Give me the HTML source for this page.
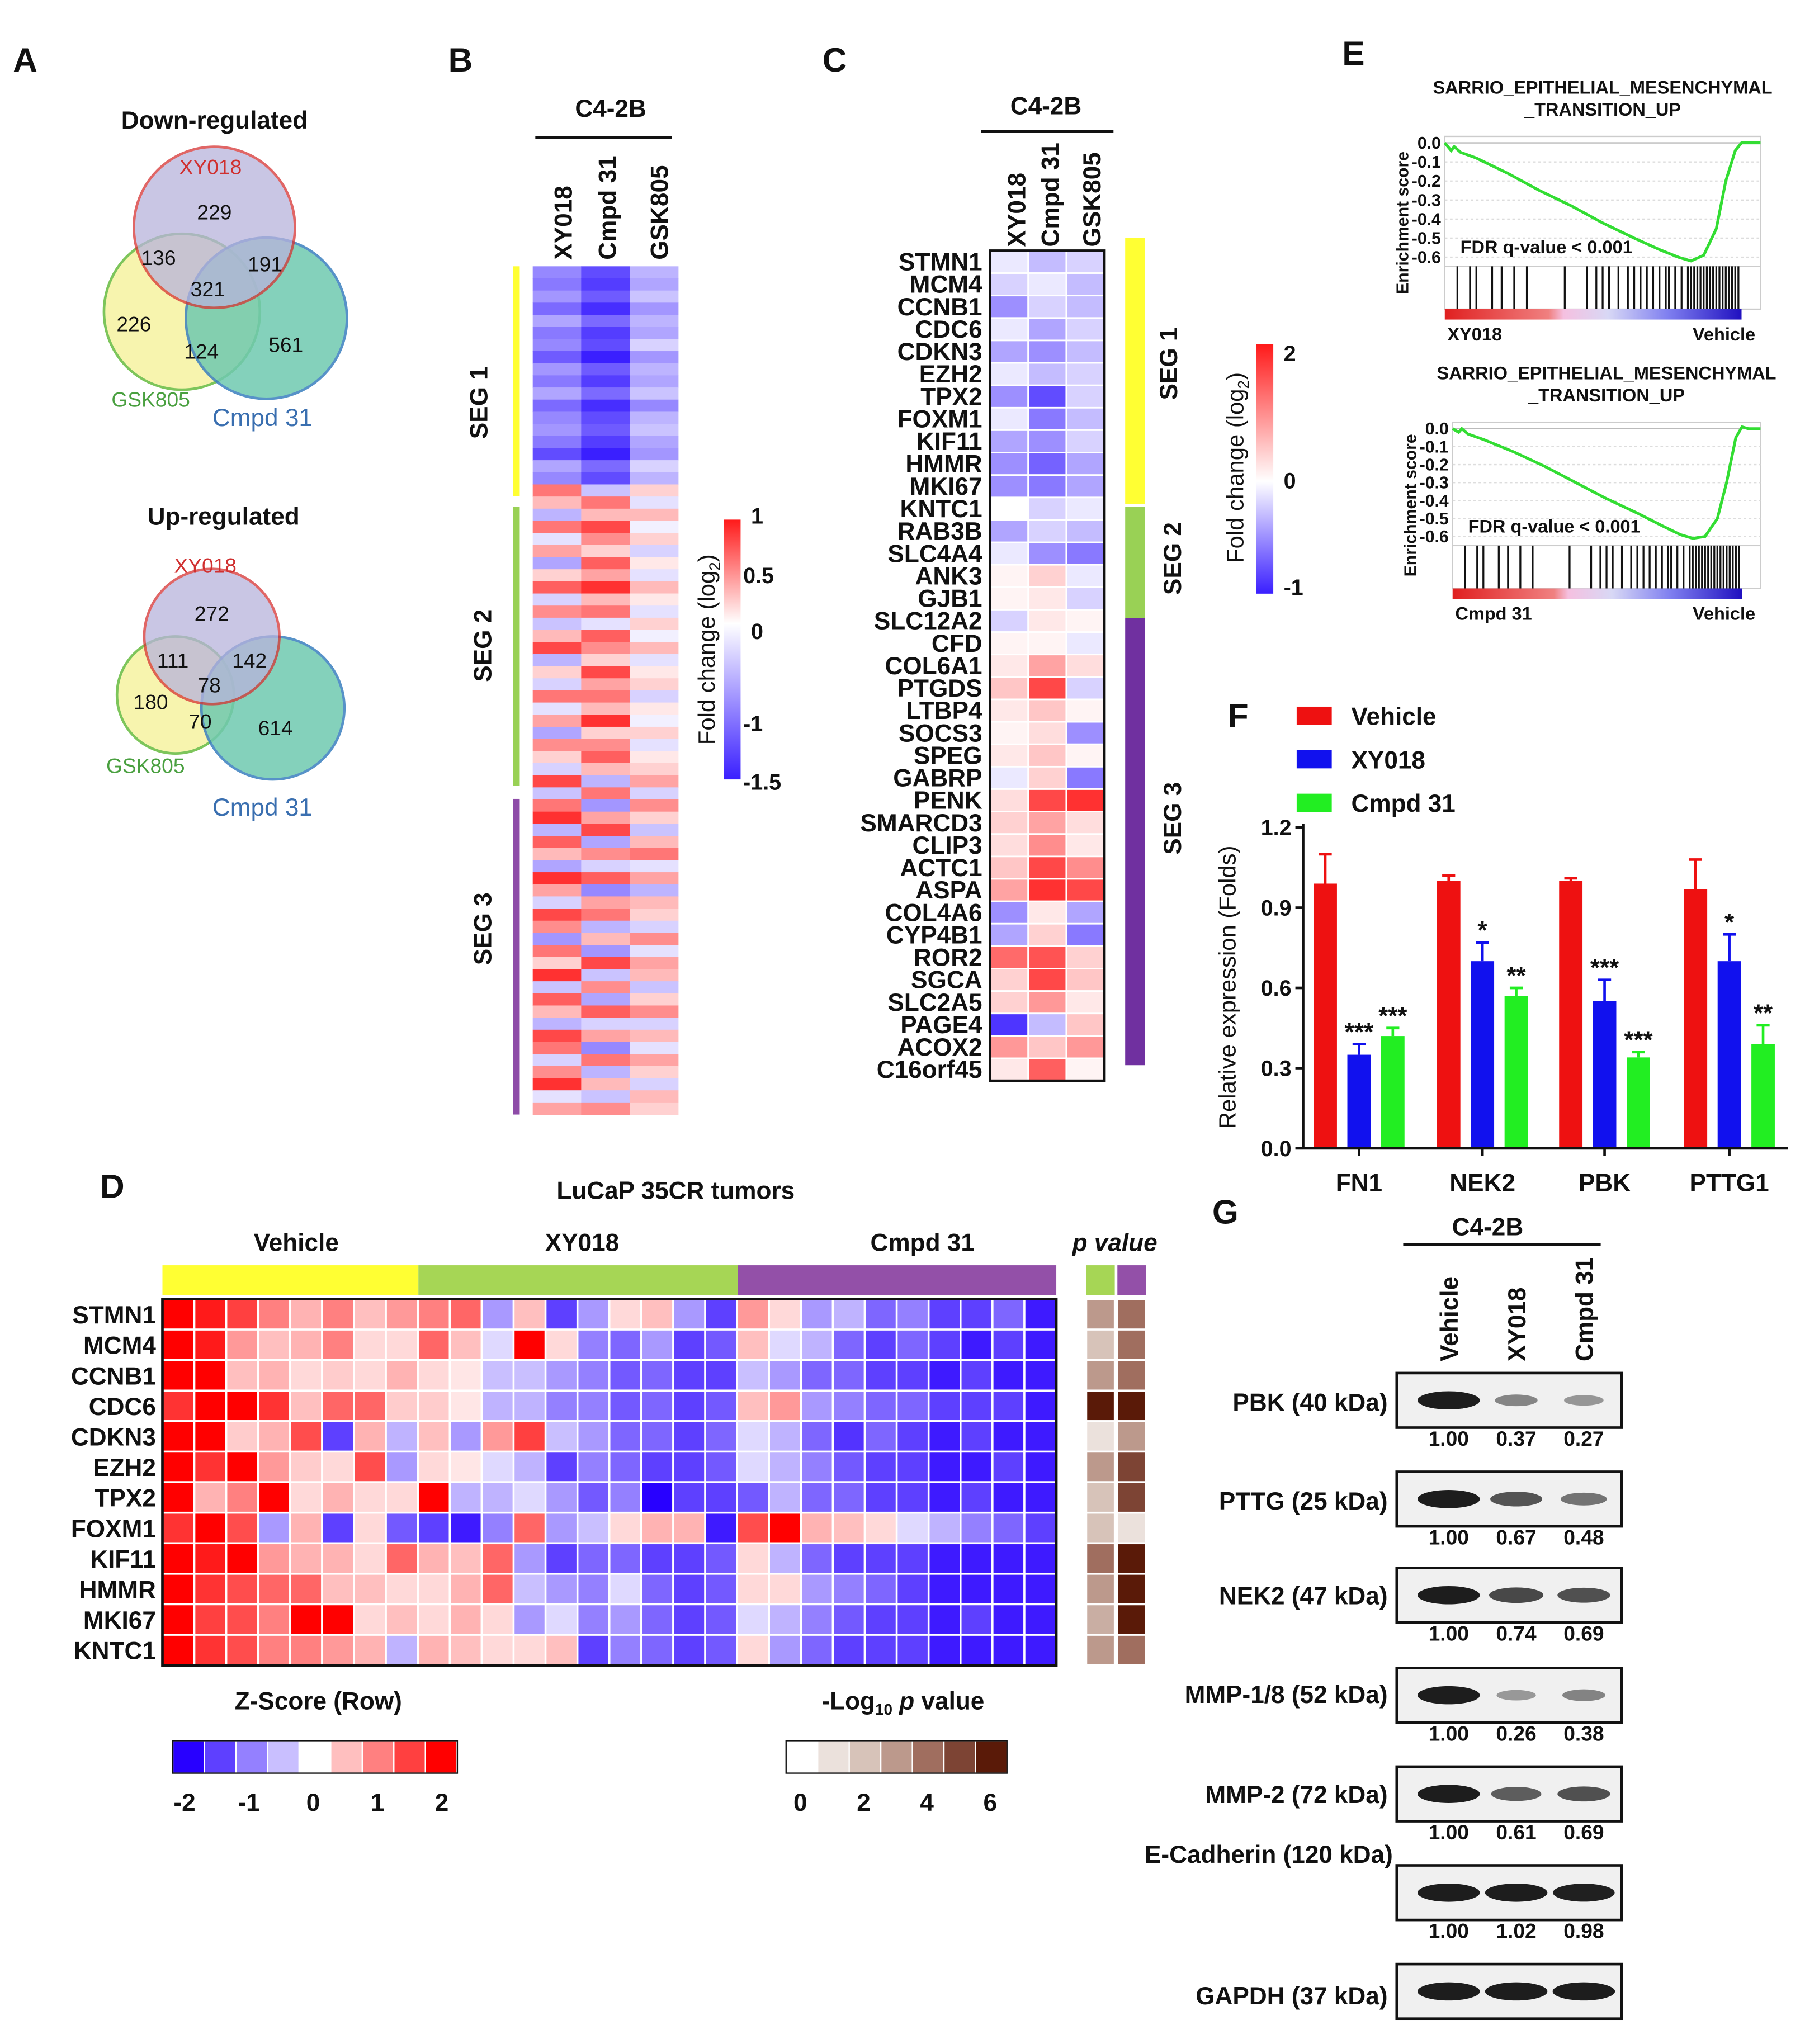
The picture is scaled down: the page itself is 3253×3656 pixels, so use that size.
<!DOCTYPE html>
<html><head><meta charset="utf-8"><style>
html,body{margin:0;padding:0;background:#fff}
svg{display:block}
text{font-family:"Liberation Sans",Arial,sans-serif;fill:#111}
</style></head><body>
<svg id="fig" xmlns="http://www.w3.org/2000/svg" width="3253" height="3656" viewBox="0 0 1400 1573.5" font-weight="bold">
<g id="static">
<text x="10" y="55" font-size="26">A</text>
<text x="345" y="55" font-size="26">B</text>
<text x="633" y="55" font-size="26">C</text>
<text x="1033" y="50" font-size="26">E</text>
<text x="945" y="560" font-size="26">F</text>
<text x="77" y="922" font-size="26">D</text>
<text x="933" y="942" font-size="26">G</text>

<g>
<text x="165" y="99" font-size="19" text-anchor="middle">Down-regulated</text>
<circle cx="140" cy="240" r="60" fill="#f7f3a6" stroke="#6fbf4a" stroke-width="2" opacity="0.9"/>
<circle cx="205" cy="245" r="62" fill="#6fc9b0" stroke="#3a7fbf" stroke-width="2" opacity="0.85"/>
<circle cx="165" cy="175" r="62" fill="#b8b3dc" stroke="#d63333" stroke-width="2" opacity="0.75"/>
<text x="165" y="169" font-size="16" text-anchor="middle" font-weight="normal">229</text>
<text x="122" y="204" font-size="16" text-anchor="middle" font-weight="normal">136</text>
<text x="204" y="209" font-size="16" text-anchor="middle" font-weight="normal">191</text>
<text x="160" y="228" font-size="16" text-anchor="middle" font-weight="normal">321</text>
<text x="103" y="255" font-size="16" text-anchor="middle" font-weight="normal">226</text>
<text x="155" y="276" font-size="16" text-anchor="middle" font-weight="normal">124</text>
<text x="220" y="271" font-size="16" text-anchor="middle" font-weight="normal">561</text>
<text x="162" y="134" font-size="16" text-anchor="middle" font-weight="normal" style="fill:#d03030">XY018</text>
<text x="116" y="313" font-size="16" text-anchor="middle" font-weight="normal" style="fill:#4aa040">GSK805</text>
<text x="202" y="328" font-size="19" text-anchor="middle" font-weight="normal" style="fill:#3a6fb0">Cmpd 31</text>
</g>
<g>
<text x="172" y="404" font-size="19" text-anchor="middle">Up-regulated</text>
<circle cx="135" cy="535" r="45" fill="#f7f3a6" stroke="#6fbf4a" stroke-width="2" opacity="0.9"/>
<circle cx="210" cy="545" r="55" fill="#6fc9b0" stroke="#3a7fbf" stroke-width="2" opacity="0.85"/>
<circle cx="163" cy="490" r="52" fill="#b8b3dc" stroke="#d63333" stroke-width="2" opacity="0.75"/>
<text x="163" y="478" font-size="16" text-anchor="middle" font-weight="normal">272</text>
<text x="133" y="514" font-size="16" text-anchor="middle" font-weight="normal">111</text>
<text x="192" y="514" font-size="16" text-anchor="middle" font-weight="normal">142</text>
<text x="161" y="533" font-size="16" text-anchor="middle" font-weight="normal">78</text>
<text x="116" y="546" font-size="16" text-anchor="middle" font-weight="normal">180</text>
<text x="154" y="561" font-size="16" text-anchor="middle" font-weight="normal">70</text>
<text x="212" y="566" font-size="16" text-anchor="middle" font-weight="normal">614</text>
<text x="158" y="441" font-size="16" text-anchor="middle" font-weight="normal" style="fill:#d03030">XY018</text>
<text x="112" y="595" font-size="16" text-anchor="middle" font-weight="normal" style="fill:#4aa040">GSK805</text>
<text x="202" y="628" font-size="19" text-anchor="middle" font-weight="normal" style="fill:#3a6fb0">Cmpd 31</text>
</g>

<text x="470" y="90" font-size="19" text-anchor="middle">C4-2B</text>
<line x1="412" y1="106" x2="517" y2="106" stroke="#111" stroke-width="2"/>
<text transform="translate(440,200) rotate(-90)" font-size="19">XY018</text>
<text transform="translate(474,200) rotate(-90)" font-size="19">Cmpd 31</text>
<text transform="translate(514,200) rotate(-90)" font-size="19">GSK805</text>
<rect x="395" y="205" width="5" height="177" fill="#ffff33"/>
<rect x="395" y="390" width="5" height="215" fill="#99d155"/>
<rect x="395" y="615" width="5" height="243" fill="#8e4ca8"/>
<text transform="translate(375,310) rotate(-90)" font-size="19" text-anchor="middle">SEG 1</text>
<text transform="translate(378,497) rotate(-90)" font-size="19" text-anchor="middle">SEG 2</text>
<text transform="translate(378,715) rotate(-90)" font-size="19" text-anchor="middle">SEG 3</text>
<defs>
<linearGradient id="gB" x1="0" y1="0" x2="0" y2="1"><stop offset="0" stop-color="#ff1a1a"/><stop offset="0.4" stop-color="#fff"/><stop offset="1" stop-color="#3a1fff"/></linearGradient>
<linearGradient id="gC" x1="0" y1="0" x2="0" y2="1"><stop offset="0" stop-color="#ff1a1a"/><stop offset="0.55" stop-color="#fff"/><stop offset="1" stop-color="#3a1fff"/></linearGradient>
<linearGradient id="rank" x1="0" y1="0" x2="1" y2="0"><stop offset="0" stop-color="#e02020"/><stop offset="0.35" stop-color="#f08080"/><stop offset="0.4" stop-color="#f5c0e0"/><stop offset="0.55" stop-color="#d8d8f5"/><stop offset="0.75" stop-color="#8080f0"/><stop offset="1" stop-color="#2010c0"/></linearGradient>
</defs>
<rect x="557" y="400" width="13" height="200" fill="url(#gB)"/>
<text x="578" y="403" font-size="17">1</text>
<text x="572" y="449" font-size="17">0.5</text>
<text x="578" y="492" font-size="17">0</text>
<text x="572" y="563" font-size="17">-1</text>
<text x="572" y="608" font-size="17">-1.5</text>
<text transform="translate(550,500) rotate(-90)" font-size="18" text-anchor="middle" font-weight="normal">Fold change (log<tspan font-size="12" dy="4">2</tspan><tspan dy="-4">)</tspan></text>

<text x="805" y="88" font-size="19" text-anchor="middle">C4-2B</text>
<line x1="755" y1="101" x2="857" y2="101" stroke="#111" stroke-width="2"/>
<text transform="translate(789,190) rotate(-90)" font-size="19">XY018</text>
<text transform="translate(815,190) rotate(-90)" font-size="19">Cmpd 31</text>
<text transform="translate(847,190) rotate(-90)" font-size="19">GSK805</text>
<rect x="866" y="183" width="15" height="205" fill="#ffff33"/>
<rect x="866" y="390" width="15" height="86" fill="#99d155"/>
<rect x="866" y="476" width="15" height="344" fill="#7030a0"/>
<text transform="translate(906,280) rotate(-90)" font-size="19" text-anchor="middle">SEG 1</text>
<text transform="translate(909,430) rotate(-90)" font-size="19" text-anchor="middle">SEG 2</text>
<text transform="translate(909,630) rotate(-90)" font-size="19" text-anchor="middle">SEG 3</text>
<rect x="967" y="265" width="13" height="192" fill="url(#gC)"/>
<text x="988" y="278" font-size="17">2</text>
<text x="988" y="376" font-size="17">0</text>
<text x="988" y="458" font-size="17">-1</text>
<text transform="translate(957,360) rotate(-90)" font-size="18" text-anchor="middle" font-weight="normal">Fold change (log<tspan font-size="12" dy="4">2</tspan><tspan dy="-4">)</tspan></text>

<text x="520" y="923" font-size="19" text-anchor="middle">LuCaP 35CR tumors</text>
<text x="228" y="963" font-size="19" text-anchor="middle">Vehicle</text>
<text x="448" y="963" font-size="19" text-anchor="middle">XY018</text>
<text x="710" y="963" font-size="19" text-anchor="middle">Cmpd 31</text>
<text x="858" y="963" font-size="19" text-anchor="middle" font-style="italic">p value</text>
<rect x="125" y="974" width="197" height="23" fill="#ffff33"/>
<rect x="322" y="974" width="246" height="23" fill="#a6d655"/>
<rect x="568" y="974" width="245" height="23" fill="#9350a8"/>
<rect x="836" y="974" width="22" height="23" fill="#a6d655"/>
<rect x="860" y="974" width="22" height="23" fill="#9350a8"/>
<text x="245" y="1316" font-size="19" text-anchor="middle">Z-Score (Row)</text>
<text x="695" y="1316" font-size="19" text-anchor="middle">-Log<tspan font-size="12" dy="4">10</tspan><tspan dy="-4"> </tspan><tspan font-style="italic">p</tspan> value</text>
</g>
<g id="dyn"></g>
</svg>
<script>
const bXY=[-0.8,-0.9,-0.7,-1.0,-0.6,-0.9,-0.8,-1.1,-0.7,-0.9,-0.6,-1.0,-0.8,-0.7,-0.9,-1.2,-0.6,-0.8,0.6,0.3,-0.5,0.6,-0.2,0.4,-0.6,0.2,0.7,-0.3,0.5,-0.4,0.3,0.8,-0.5,0.2,-0.3,0.6,-0.2,0.4,-0.6,0.5,0.2,-0.3,0.8,-0.4,0.6,0.9,-0.5,0.7,0.3,-0.6,0.9,0.4,-0.3,0.8,0.5,-0.7,0.6,0.2,0.9,-0.4,0.7,0.3,-0.5,0.8,0.6,-0.3,0.5,0.9,-0.2,0.4];
const bCM=[-1.2,-1.3,-1.1,-1.4,-1.0,-1.3,-1.2,-1.5,-1.1,-1.3,-1.0,-1.4,-1.2,-1.1,-1.3,-1.5,-1.0,-1.2,-0.4,0.6,0.3,0.8,0.5,0.2,0.7,0.4,0.9,0.3,0.6,-0.2,0.7,0.5,0.2,0.8,0.4,0.6,0.3,0.9,0.2,0.5,0.7,0.3,-0.5,0.6,-0.7,0.4,0.8,-0.6,0.5,-0.3,0.7,-0.8,0.4,0.6,-0.5,0.3,-0.7,0.8,-0.4,0.5,-0.6,0.7,-0.3,0.4,-0.8,0.6,-0.5,0.3,-0.4,0.5];
const bGS=[-0.5,-0.6,-0.4,-0.7,-0.5,-0.6,-0.3,-0.7,-0.5,-0.6,-0.4,-0.8,-0.5,-0.4,-0.6,-0.7,-0.3,-0.5,0.2,-0.2,0.3,-0.1,0.2,-0.3,0.1,-0.2,0.3,0.1,-0.2,0.2,-0.1,0.3,-0.2,0.1,0.2,-0.3,0.1,-0.1,0.2,-0.2,0.1,0.2,0.4,-0.3,0.5,0.2,-0.4,0.3,0.6,-0.2,0.4,-0.5,0.3,0.2,-0.3,0.5,-0.2,0.4,0.3,-0.4,0.2,0.5,-0.3,0.3,-0.2,0.4,0.2,-0.3,0.3,0.2];
const cGenes=["STMN1","MCM4","CCNB1","CDC6","CDKN3","EZH2","TPX2","FOXM1","KIF11","HMMR","MKI67","KNTC1","RAB3B","SLC4A4","ANK3","GJB1","SLC12A2","CFD","COL6A1","PTGDS","LTBP4","SOCS3","SPEG","GABRP","PENK","SMARCD3","CLIP3","ACTC1","ASPA","COL4A6","CYP4B1","ROR2","SGCA","SLC2A5","PAGE4","ACOX2","C16orf45"];
const cXY=[-0.1,-0.2,-0.5,-0.1,-0.4,-0.1,-0.5,-0.1,-0.4,-0.5,-0.5,0,-0.4,-0.1,0.1,0.1,-0.2,0.1,0.2,0.5,0.2,0.1,0.2,-0.1,0.3,0.4,0.3,0.5,0.8,-0.5,-0.4,1.3,0.4,0.4,-0.9,0.9,0.2];
const cCM=[-0.3,-0.1,-0.2,-0.4,-0.5,-0.3,-0.8,-0.6,-0.5,-0.7,-0.6,-0.2,-0.2,-0.5,0.4,0.2,0.2,0.1,0.8,1.6,0.5,0.3,0.5,0.4,1.6,0.8,1.0,1.6,1.8,0.2,0.4,1.5,1.6,0.9,-0.3,0.5,1.4];
const cGS=[-0.2,-0.3,-0.3,-0.2,-0.3,-0.2,-0.2,-0.3,-0.2,-0.4,-0.4,-0.1,-0.3,-0.6,-0.1,-0.2,0.1,-0.1,0.3,-0.2,0.1,-0.5,0.1,-0.6,1.8,0.3,0.2,1.0,1.6,-0.4,-0.6,0.4,0.5,0.2,0.5,0.9,0.1];
const dGenes=["STMN1","MCM4","CCNB1","CDC6","CDKN3","EZH2","TPX2","FOXM1","KIF11","HMMR","MKI67","KNTC1"];
const dZ=[
[2,1.8,1.5,1,0.6,1,0.5,0.8,1,1.2,-0.8,0.5,-1.5,-0.8,0.3,0.5,-0.8,-1.5,0.8,0.3,-0.8,-0.6,-1.2,-1,-1.5,-1.5,-1.2,-1.8],
[2,1.8,0.8,0.5,0.6,1,0.3,0.3,1.2,0.5,-0.3,2,0.3,-1,-1.2,-0.8,-1.5,-1.3,0.5,-0.3,-0.6,-1.2,-1.5,-1.2,-1.5,-1.8,-1.5,-1.8],
[2,2,0.5,0.6,0.3,0.4,0.3,0.6,0.3,0.2,-0.5,-0.5,-0.8,-1,-1.3,-1.2,-1.5,-1.5,-0.5,-0.8,-1.2,-1.2,-1.5,-1.5,-1.8,-1.5,-1.8,-1.8],
[1.6,2,2,1.6,0.5,1.2,1.2,0.4,0.4,0.2,-0.6,-0.6,-1,-1,-1.3,-1.2,-1.5,-1.3,0.5,0.8,-0.8,-1,-1.2,-1.2,-1.5,-1.5,-1.5,-1.8],
[2,2,0.4,0.6,1.4,-1.5,0.6,-0.6,0.5,-0.8,0.8,1.5,-0.5,-0.8,-1.2,-1.2,-1.5,-1.2,-0.3,-0.6,-1.2,-1.6,-1.2,-1.5,-1.8,-1.5,-1.8,-1.8],
[2,1.6,2,0.8,0.4,0.3,1.4,-0.8,0.3,0.2,-0.3,-0.6,-1.5,-1,-1.2,-1.5,-1.5,-1.3,-0.3,-0.6,-1,-1.3,-1.5,-1.5,-1.8,-1.8,-1.5,-1.8],
[2,0.6,1,2,0.3,0.6,0.3,0.3,2,-0.6,-0.6,-0.3,-0.8,-1.3,-1,-2,-1.5,-1.5,-1.3,-0.6,-1.2,-1.2,-1.5,-1.5,-1.8,-1.5,-1.8,-1.8],
[1.6,2,1.4,-0.8,0.6,-1.5,0.3,-1.3,-1.5,-1.8,-1,1.2,-0.8,-0.5,0.3,0.6,0.6,-1.8,1.4,2,0.6,0.5,0.3,-0.3,-0.6,-1,-1.2,-1.5],
[2,1.8,2,0.8,0.6,0.6,0.3,1.2,0.6,0.5,1.2,-0.8,-1.5,-1.2,-1.2,-1.5,-1.5,-1.3,0.3,-0.6,-1.2,-1.5,-1.5,-1.5,-1.8,-1.8,-1.8,-1.8],
[2,1.6,1.4,1.2,1.2,0.5,0.5,0.3,0.3,0.6,1.2,-0.5,-0.8,-1,-0.3,-1.2,-1.5,-1.3,0.3,0.3,-0.8,-1,-1.2,-1.5,-1.8,-1.8,-1.8,-1.8],
[2,1.5,1.4,1,2,2,0.3,0.5,0.3,0.6,0.3,-0.8,-0.3,-1,-0.8,-1.2,-1.5,-1.3,-0.3,-0.6,-1,-1.3,-1.5,-1.5,-1.8,-1.5,-1.8,-1.8],
[2,1.6,1.4,1,1,0.8,0.6,-0.6,0.6,0.5,0.3,0.3,0.5,-1.5,-1,-1.2,-1.5,-1.3,0.3,-0.8,-1.2,-1.5,-1.5,-1.5,-1.8,-1.8,-1.8,-1.8]];
const dPxy=[3,2,3,6,1,3,2,2,4,3,2.5,3];
const dPcm=[4,4,4,6,3,5,5,1,6,6,6,4];
const zLegend=["-2","-1","0","1","2"];
const pLegend=["0","2","4","6"];
const esX=[0,0.02,0.03,0.05,0.1,0.2,0.3,0.4,0.5,0.6,0.68,0.74,0.78,0.82,0.86,0.89,0.92,0.94,0.96,1];
const esY1=[0,-0.04,-0.02,-0.05,-0.08,-0.16,-0.25,-0.33,-0.42,-0.5,-0.56,-0.6,-0.62,-0.59,-0.45,-0.2,-0.04,0,0,0];
const esY2=[0,-0.02,0,-0.03,-0.06,-0.13,-0.21,-0.3,-0.39,-0.47,-0.54,-0.59,-0.61,-0.6,-0.5,-0.3,-0.05,0.01,0,0];
const hits=[0.04,0.08,0.1,0.15,0.18,0.22,0.26,0.38,0.45,0.48,0.5,0.52,0.55,0.58,0.6,0.62,0.64,0.66,0.68,0.7,0.71,0.73,0.75,0.77,0.78,0.79,0.8,0.81,0.82,0.83,0.84,0.85,0.86,0.87,0.88,0.89,0.9,0.91,0.92,0.93];
const esTicks=["0.0","-0.1","-0.2","-0.3","-0.4","-0.5","-0.6"];
const fCats=["FN1","NEK2","PBK","PTTG1"];
const fVeh=[0.99,1.0,1.0,0.97];
const fVehErr=[0.11,0.02,0.01,0.11];
const fXY=[0.35,0.7,0.55,0.7];
const fXYErr=[0.04,0.07,0.08,0.1];
const fCM=[0.42,0.57,0.34,0.39];
const fCMErr=[0.03,0.03,0.02,0.07];
const fXYStar=["***","*","***","*"];
const fCMStar=["***","**","***","**"];
const fTicks=[0,0.3,0.6,0.9,1.2];
const gBlots=["PBK (40 kDa)","PTTG (25 kDa)","NEK2 (47 kDa)","MMP-1/8 (52 kDa)","MMP-2 (72 kDa)","E-Cadherin (120 kDa)","GAPDH (37 kDa)"];
const gVals=[[1.00,0.37,0.27],[1.00,0.67,0.48],[1.00,0.74,0.69],[1.00,0.26,0.38],[1.00,0.61,0.69],[1.00,1.02,0.98],[1,1,1]];
const gLanes=["Vehicle","XY018","Cmpd 31"];

const NS="http://www.w3.org/2000/svg";
const root=document.getElementById('dyn');
function mk(tag,attrs,parent){const e=document.createElementNS(NS,tag);for(const k in attrs)e.setAttribute(k,attrs[k]);(parent||root).appendChild(e);return e;}
function txt(x,y,s,size,anchor,parent,extra){const t=mk('text',Object.assign({x:x,y:y,'font-size':size,'text-anchor':anchor||'start'},extra||{}),parent);t.textContent=s;return t;}
function lerp(a,b,t){return a.map((v,i)=>Math.round(v+(b[i]-v)*t));}
function div(v,min,max){const W=[255,255,255],R=[255,26,26],B=[58,31,255];let c;if(v>=0)c=lerp(W,R,Math.min(1,v/max));else c=lerp(W,B,Math.min(1,v/min));return `rgb(${c})`;}

const gB=mk('g',{});
const bTop=205,bBot=858,bX=410,bColW=37.3;const bRowH=(bBot-bTop)/bXY.length;
[bXY,bCM,bGS].forEach((arr,ci)=>arr.forEach((v,ri)=>{const r=mk('rect',{x:bX+ci*bColW,y:bTop+ri*bRowH,width:bColW+0.3,height:bRowH+0.3,fill:div(v,-1.5,1)},gB);}));

const gC=mk('g',{});
const cTop=193,cBot=832,cX=762,cW=88/3;const cRowH=(cBot-cTop)/cGenes.length;
[cXY,cCM,cGS].forEach((arr,ci)=>arr.forEach((v,ri)=>{const r=mk('rect',{x:cX+ci*cW,y:cTop+ri*cRowH,width:cW,height:cRowH,fill:div(v,-1,2),stroke:'#fff','stroke-width':1.2},gC);}));
mk('rect',{x:cX,y:cTop,width:88,height:cBot-cTop,fill:'none',stroke:'#111','stroke-width':2},gC);
cGenes.forEach((g,i)=>{const t=txt(756,cTop+(i+0.5)*cRowH+6.5,g,19,'end',gC);});

function zc(v){const W=[255,255,255],R=[255,0,0],B=[40,0,255];const c=v>=0?lerp(W,R,Math.min(1,v/2)):lerp(W,B,Math.min(1,-v/2));return `rgb(${c})`;}
function pc(v){const stops=[[255,255,255],[215,195,185],[160,110,95],[90,26,8]];const t=Math.max(0,Math.min(6,v))/2;const i=Math.min(2,Math.floor(t));return `rgb(${lerp(stops[i],stops[i+1],t-i)})`;}
const gD=mk('g',{});
const dX=125,dTop=1000,dW=688/28,dH=282/12;
dZ.forEach((row,ri)=>{row.forEach((v,ci)=>{const r=mk('rect',{x:dX+ci*dW,y:dTop+ri*dH,width:dW,height:dH,fill:zc(v),stroke:'#fff','stroke-width':1.5},gD);});
 const l=txt(120,dTop+(ri+0.5)*dH+7,dGenes[ri],19,'end',gD);
 const p1=mk('rect',{x:836,y:dTop+ri*dH,width:22,height:dH,fill:pc(dPxy[ri]),stroke:'#fff','stroke-width':1.5},gD);
 const p2=mk('rect',{x:860,y:dTop+ri*dH,width:22,height:dH,fill:pc(dPcm[ri]),stroke:'#fff','stroke-width':1.5},gD);
});
mk('rect',{x:dX,y:dTop,width:688,height:282,fill:'none',stroke:'#111','stroke-width':2},gD);
const zl=mk('g',{});
for(let i=0;i<9;i++){mk('rect',{x:133+i*24.3,y:1340,width:24.3,height:25,fill:zc(-2+i*0.5),stroke:'#fff','stroke-width':1},zl);}
mk('rect',{x:133,y:1340,width:219,height:25,fill:'none',stroke:'#111','stroke-width':1},zl);
zLegend.forEach((s,i)=>txt(142+i*49.5,1394,s,19,'middle',zl));
const pl=mk('g',{});
for(let i=0;i<7;i++){mk('rect',{x:605+i*24.3,y:1340,width:24.3,height:25,fill:pc(i),stroke:'#fff','stroke-width':1},pl);}
mk('rect',{x:605,y:1340,width:170,height:25,fill:'none',stroke:'#111','stroke-width':1},pl);
pLegend.forEach((s,i)=>txt(616+i*48.7,1394,s,19,'middle',pl));

function gsea(x0,x1,yTop,yMin,esY,lab,name){
 const g=mk('g',{});
 const y0=yTop+5,y6=yMin;const ys=v=>y0+(-v/0.6)*(y6-y0);const xs=f=>x0+f*(x1-x0);
 txt((x0+x1)/2,yTop-33,"SARRIO_EPITHELIAL_MESENCHYMAL",14,'middle',g);
 txt((x0+x1)/2,yTop-16,"_TRANSITION_UP",14,'middle',g);
 const bot=y6+7;
 mk('rect',{x:x0,y:yTop,width:x1-x0,height:bot-yTop,fill:'none',stroke:'#ccc','stroke-width':1},g);
 for(let i=1;i<7;i++)mk('line',{x1:x0,x2:x1,y1:ys(-i*0.1),y2:ys(-i*0.1),stroke:'#ddd','stroke-dasharray':'2,2'},g);
 mk('line',{x1:x0,x2:x1,y1:ys(0),y2:ys(0),stroke:'#bbb','stroke-width':1},g);
 esTicks.forEach((s,i)=>txt(x0-3,ys(-i*0.1)+4.5,s,13,'end',g));
 txt(0,0,"Enrichment score",13,'middle',g,{transform:`translate(${x0-28},${(yTop+bot+33)/2}) rotate(-90)`});
 mk('path',{d:esX.map((f,i)=>(i?'L':'M')+xs(f).toFixed(1)+' '+ys(esY[i]).toFixed(1)).join(' '),fill:'none',stroke:'#33dd33','stroke-width':2.2},g);
 txt(x0+12,y6-3,"FDR q-value < 0.001",14,'start',g);
 const hb=bot+33;
 mk('rect',{x:x0,y:bot,width:x1-x0,height:hb-bot,fill:'none',stroke:'#ccc'},g);
 hits.forEach(f=>{const h=mk('line',{x1:xs(f),x2:xs(f),y1:bot,y2:hb,stroke:'#111','stroke-width':1.4},g);});
 mk('rect',{x:x0,y:hb,width:(x1-x0)*0.94,height:8,fill:'url(#rank)'},g);
 txt(x0+2,hb+24,lab,14,'start',g);txt(x1-4,hb+24,"Vehicle",14,'end',g);
}
gsea(1112,1355,105,198,esY1,"XY018","gsea-plot-xy018");
gsea(1118,1355,325,413,esY2,"Cmpd 31","gsea-plot-cmpd31");

const gF=mk('g',{});
const fx0=1003,fx1=1376,fy0=884,fy1=637;const fy=v=>fy0-(v/1.2)*(fy0-fy1);
const centers=[1046,1141,1235,1331];
const legendItems=[["Vehicle","#ee1111"],["XY018","#1111ee"],["Cmpd 31","#22ee22"]];
legendItems.forEach((it,i)=>{const r=mk('rect',{x:998,y:544+i*33.5,width:27,height:14,fill:it[1]},gF);const t=txt(1040,558+i*33.5,it[0],19,'start',gF);});
fTicks.forEach(v=>{mk('line',{x1:fx0-6,x2:fx0,y1:fy(v),y2:fy(v),stroke:'#111','stroke-width':2},gF);txt(fx0-9,fy(v)+6,v.toFixed(1),17,'end',gF);});
const series=[[fVeh,fVehErr,"#ee1111",-26,null],[fXY,fXYErr,"#1111ee",0,fXYStar],[fCM,fCMErr,"#22ee22",26,fCMStar]];
series.forEach(s=>{s[0].forEach((v,i)=>{const cx=centers[i]+s[3];const b=mk('rect',{x:cx-9,y:fy(v),width:18,height:fy0-fy(v),fill:s[2]},gF);
 const top=fy(v+s[1][i]);mk('line',{x1:cx,x2:cx,y1:fy(v),y2:top,stroke:s[2],'stroke-width':2},gF);mk('line',{x1:cx-5,x2:cx+5,y1:top,y2:top,stroke:s[2],'stroke-width':2},gF);
 if(s[4])txt(cx,top-3,s[4][i],19,'middle',gF);});});
mk('line',{x1:fx0,x2:fx0,y1:fy1-3,y2:fy0,stroke:'#111','stroke-width':2},gF);
mk('line',{x1:fx0,x2:fx1,y1:fy0,y2:fy0,stroke:'#111','stroke-width':2},gF);
fCats.forEach((c,i)=>{mk('line',{x1:centers[i],x2:centers[i],y1:fy0,y2:fy0+6,stroke:'#111','stroke-width':2},gF);txt(centers[i],fy0+33,c,19,'middle',gF);});
txt(0,0,"Relative expression (Folds)",18,'middle',gF,{transform:'translate(951,760) rotate(-90)','font-weight':'normal'});

const gG=mk('g',{});
txt(1145,951,"C4-2B",19,'middle',gG);mk('line',{x1:1080,x2:1232,y1:958,y2:958,stroke:'#111','stroke-width':2},gG);
const laneX=[1115,1167,1219];
gLanes.forEach((l,i)=>txt(0,0,l,19,'start',gG,{transform:`translate(${laneX[i]+7},1048) rotate(-90)`}));
const boxTop=[1057,1133,1207,1284,1360,1436,1512];const labY=[1086,1162,1235,1311,1388,1434,1543];
gBlots.forEach((name,bi)=>{const y=boxTop[bi];
 mk('rect',{x:1075,y:y,width:173,height:42,fill:'#f0f0f0',stroke:'#111','stroke-width':2},gG);
 const lx=bi===5?1072:1068;const t=txt(lx,labY[bi],name,19,'end',gG);
 gVals[bi].forEach((v,li)=>{const m=Math.min(1,v);const w=12+12*m;const op=0.2+0.75*m;
  const e=mk('ellipse',{cx:laneX[li],cy:y+21,rx:w,ry:3+4*m,fill:'#111',opacity:op},gG);
  if(bi<6)txt(laneX[li],y+56,v.toFixed(2),16,'middle',gG);});
});
</script>
</body></html>
